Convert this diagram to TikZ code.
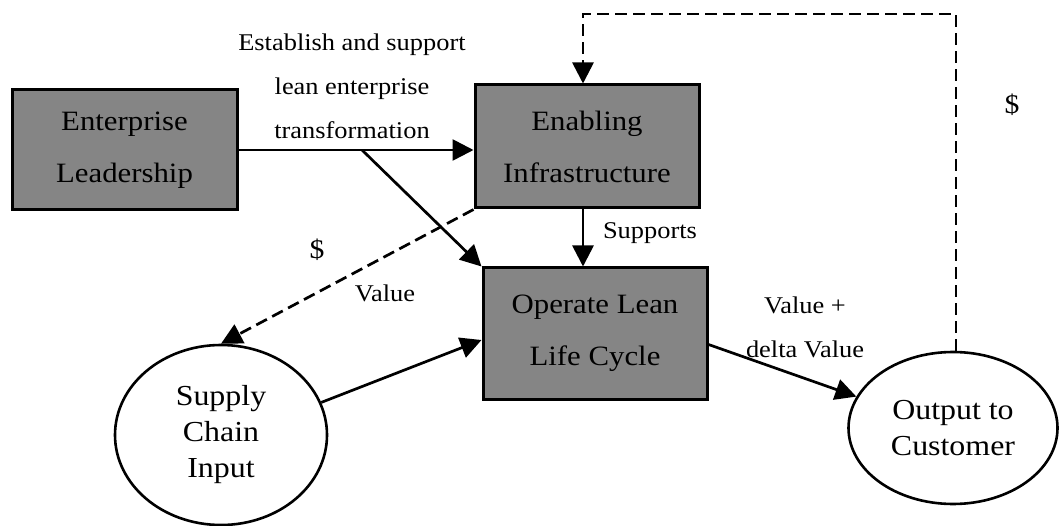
\documentclass[tikz,border=0pt]{standalone}
\usepackage{fontspec}
\setmainfont[FakeStretch=1.1]{Liberation Serif}
\usetikzlibrary{arrows.meta,shapes.geometric}

\tikzset{
  shadedbox/.style={draw=black, line width=3pt, fill=black!48,
    minimum width=224pt, inner sep=0pt, align=center,
    font=\fontsize{28}{52}\selectfont},
  flowoval/.style={draw=black, ellipse, line width=2.6pt, fill=white,
    inner sep=0pt, align=center, font=\fontsize{29}{36}\selectfont},
  flow/.style={line width=2.7pt, -{Triangle[length=21pt,width=21pt]}},
  money/.style={flow, dash pattern=on 12pt off 6pt},
  lbl/.style={align=center, inner sep=0pt, font=\fontsize{24}{44}\selectfont}
}

\begin{document}
\begin{tikzpicture}[x=1pt,y=-1pt]
  \useasboundingbox (0,0) rectangle (1059,526);

  % process boxes
  \node[shadedbox, minimum width=225pt, minimum height=120pt] (el) at (124.5,150)
    {Enterprise\\Leadership};
  \node[shadedbox, minimum height=123pt] (ei) at (587,146.5)
    {Enabling\\Infrastructure};
  \node[shadedbox, minimum height=131pt] (ol) at (595,333.5)
    {Operate Lean\\Life Cycle};

  % external parties
  \node[flowoval, minimum width=212pt, minimum height=180pt] (sc) at (221,435)
    {Supply\\Chain\\Input};
  \node[flowoval, minimum width=209pt, minimum height=152pt] (oc) at (953,428)
    {Output to\\Customer};

  % labels
  \node[lbl] (lt) at (352,86) {Establish and support\\lean enterprise\\transformation};
  \node[lbl] (ls) at (650,233) {Supports};
  \node[lbl] (lv) at (385,293) {Value};
  \node[lbl] (ld) at (805,327) {Value +\\delta Value};
  \node[lbl, font=\fontsize{27}{30}\selectfont] (m1) at (317,250) {\$};
  \node[lbl, font=\fontsize{27}{30}\selectfont] (m2) at (1012,105) {\$};

  % helper points
  \coordinate (branch) at (362,150);
  \coordinate (loop) at (0,14);

  % connectors
  \draw[flow] (el.east) -- (el.east -| ei.west);
  \draw[flow] (branch) -- (ol.north west);
  \draw[flow] ([xshift=-4pt]ei.south) -- ([xshift=-4pt]ei.south |- ol.north);
  \draw[money] (ei.south west) -- (sc.north);
  \draw[flow] (sc.18) -- ([yshift=-6.5pt]ol.west);
  \draw[flow] ([yshift=-11pt]ol.east) -- (oc.162);
  \draw[money] ([xshift=3pt]oc.north) -- ([xshift=3pt]oc.north |- loop)
    -- ([xshift=-4pt]ei.north |- loop) -- ([xshift=-4pt]ei.north);
\end{tikzpicture}
\end{document}
